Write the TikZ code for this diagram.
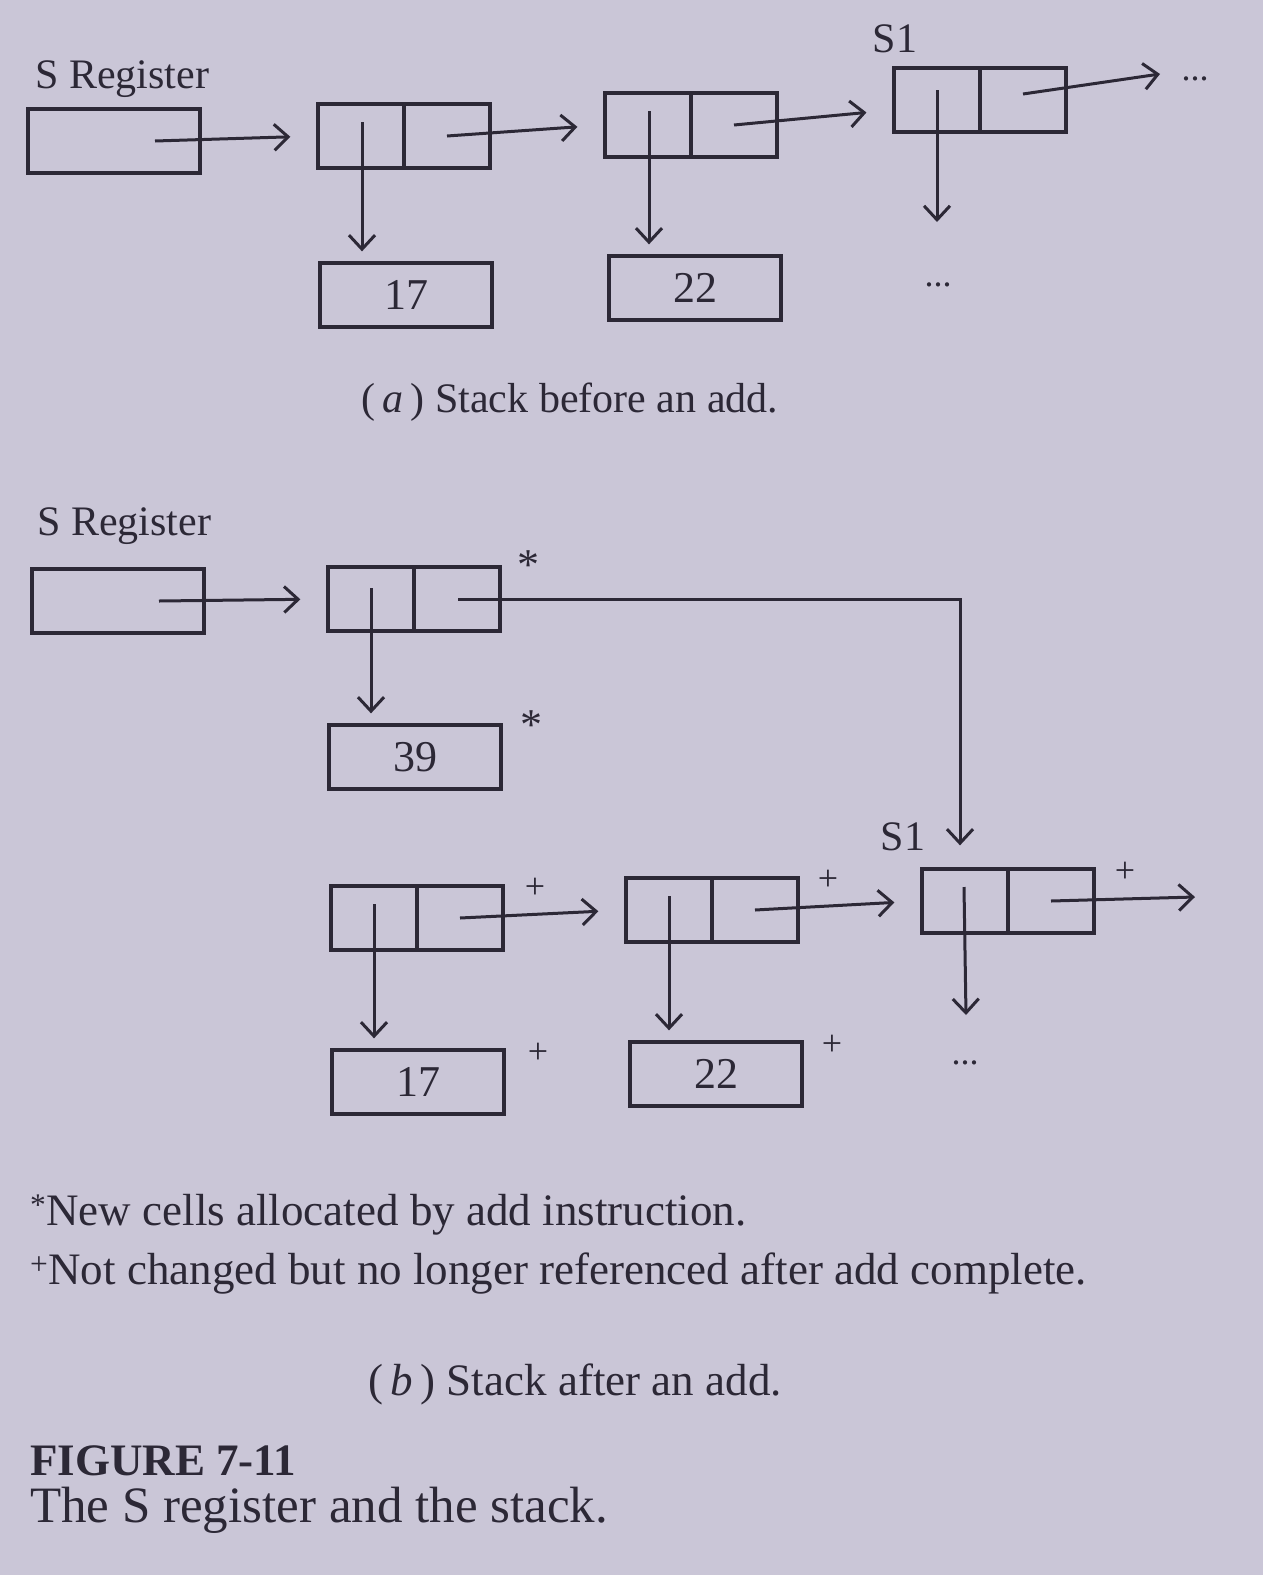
\documentclass[tikz,border=0pt]{standalone}
\usepackage{fontspec}
\setmainfont{Liberation Serif}
\usetikzlibrary{arrows.meta,calc}
\definecolor{paper}{RGB}{202,198,215}
\definecolor{ink}{RGB}{44,40,54}
\newcommand{\myTxt}{\fontsize{42}{48}\selectfont}
\newcommand{\myNum}{\fontsize{44}{50}\selectfont}
\newcommand{\myFoot}{\fontsize{45}{52}\selectfont}
\newcommand{\myCap}{\fontsize{51}{58}\selectfont}
\newcommand{\myMark}{\fontsize{36}{42}\selectfont}
\newcommand{\myStar}{\fontsize{44}{50}\selectfont}
\begin{document}
\begin{tikzpicture}[x=1pt,y=-1pt,
  cellbox/.style={draw=ink, line width=3.3pt, minimum width=172pt, minimum height=64pt, inner sep=0pt, font=\myNum, text=ink},
  divider/.style={draw=ink, line width=3.3pt},
  ptr/.style={draw=ink, line width=3pt, -{Straight Barb[length=14pt,width=26pt]}},
  lbl/.style={text=ink, font=\myTxt, inner sep=0pt},
  footlbl/.style={text=ink, font=\myFoot, inner sep=0pt},
  starmark/.style={text=ink, font=\myStar, inner sep=0pt},
  plusmark/.style={text=ink, font=\myMark, inner sep=0pt},
  dotlbl/.style={text=ink, font=\myMark, inner sep=0pt}
]
\useasboundingbox (0,0) rectangle (1263,1575);
\fill[paper] (0,0) rectangle (1263,1575);

% ---------------- (a) ----------------
\node[lbl, anchor=base west] (sra) at (35,88) {S Register};
\node[cellbox] (rega) at (114,141) {};
\node[cellbox] (a1) at (404,136) {};
\node[cellbox] (a2) at (691,125) {};
\node[cellbox] (a3) at (980,100) {};
\node[cellbox] (a17) at (406,295) {17};
\node[cellbox] (a22) at (695,288) {22};
\node[lbl, anchor=base] (s1a) at (895,52) {S1};
\node[dotlbl, anchor=base] (adots1) at (1195,80) {...};
\node[dotlbl, anchor=base] (adots2) at (938,286) {...};
\coordinate (a3r) at (1160,74);
\coordinate (a3d) at (937,222);

\foreach \c in {a1,a2,a3} \draw[divider] (\c.north) -- (\c.south);

\draw[ptr, shorten >=26pt] ([xshift=41pt]rega.center) -- (a1.west);
\draw[ptr, shorten >=26pt] ([xshift=43pt]a1.center) -- (a2.west);
\draw[ptr, shorten >=26pt] ([xshift=43pt]a2.center) -- ([yshift=-10pt]a3.west);
\draw[ptr] ([xshift=43pt,yshift=6pt]a3.center) -- (a3r);
\draw[ptr, shorten >=10pt] ([xshift=-42pt,yshift=14pt]a1.center) -- ([xshift=-42pt]a1.center |- a17.north);
\draw[ptr, shorten >=10pt] ([xshift=-42pt,yshift=14pt]a2.center) -- ([xshift=-42pt]a2.center |- a22.north);
\draw[ptr] ([xshift=-43pt,yshift=10pt]a3.center) -- (a3d);

\node[lbl, anchor=base] (capa) at (570,412) {(\,\textit{a}\,) Stack before an add.};

% ---------------- (b) ----------------
\node[lbl, anchor=base west] (srb) at (37,535) {S Register};
\node[cellbox] (regb) at (118,601) {};
\node[cellbox] (b1) at (414,599) {};
\node[cellbox] (b39) at (415,757) {39};
\node[cellbox] (b2) at (417,918) {};
\node[cellbox] (b3) at (712,910) {};
\node[cellbox] (b4) at (1008,901) {};
\node[cellbox] (b17) at (418,1082) {17};
\node[cellbox] (b22) at (716,1074) {22};
\node[lbl, anchor=base] (s1b) at (903,850) {S1};
\node[dotlbl, anchor=base] (bdots) at (965,1064) {...};
\coordinate (b4r) at (1195,897);
\coordinate (b4d) at (966,1015);

\foreach \c in {b1,b2,b3,b4} \draw[divider] (\c.north) -- (\c.south);

\node[starmark] (m1) at (528,565) {*};
\node[starmark] (m2) at (531,725) {*};
\node[plusmark] (m3) at (535,888) {+};
\node[plusmark] (m4) at (828,880) {+};
\node[plusmark] (m5) at (1125,872) {+};
\node[plusmark] (m6) at (538,1053) {+};
\node[plusmark] (m7) at (832,1045) {+};

\draw[ptr, shorten >=26pt] ([xshift=41pt]regb.center) -- (b1.west);
\draw[ptr, shorten >=10pt] ([xshift=-43pt,yshift=11pt]b1.center) -- ([xshift=-43pt]b1.center |- b39.north);
\draw[ptr, shorten >=22pt] ([xshift=44pt]b1.center) -| ([xshift=-48pt]b4.north);
\draw[ptr, shorten >=26pt] ([xshift=43pt]b2.center) -- (b3.west);
\draw[ptr, shorten >=26pt] ([xshift=43pt]b3.center) -- (b4.west);
\draw[ptr] ([xshift=43pt]b4.center) -- (b4r);
\draw[ptr, shorten >=10pt] ([xshift=-43pt,yshift=14pt]b2.center) -- ([xshift=-43pt]b2.center |- b17.north);
\draw[ptr, shorten >=10pt] ([xshift=-43pt,yshift=14pt]b3.center) -- ([xshift=-43pt]b3.center |- b22.north);
\draw[ptr] ([xshift=-44pt,yshift=14pt]b4.center) -- (b4d);

\node[footlbl, anchor=base west] (fn1) at (30,1225) {\textsuperscript{*}New cells allocated by add instruction.};
\node[footlbl, anchor=base west] (fn2) at (30,1284) {\textsuperscript{+}Not changed but no longer referenced after add complete.};
\node[footlbl, anchor=base] (capb) at (575,1395) {(\,\textit{b}\,) Stack after an add.};
\node[footlbl, anchor=base west] (fig) at (30,1475) {\textbf{FIGURE 7-11}};
\node[footlbl, anchor=base west, font=\myCap] (figt) at (30,1522) {The S register and the stack.};
\end{tikzpicture}
\end{document}
